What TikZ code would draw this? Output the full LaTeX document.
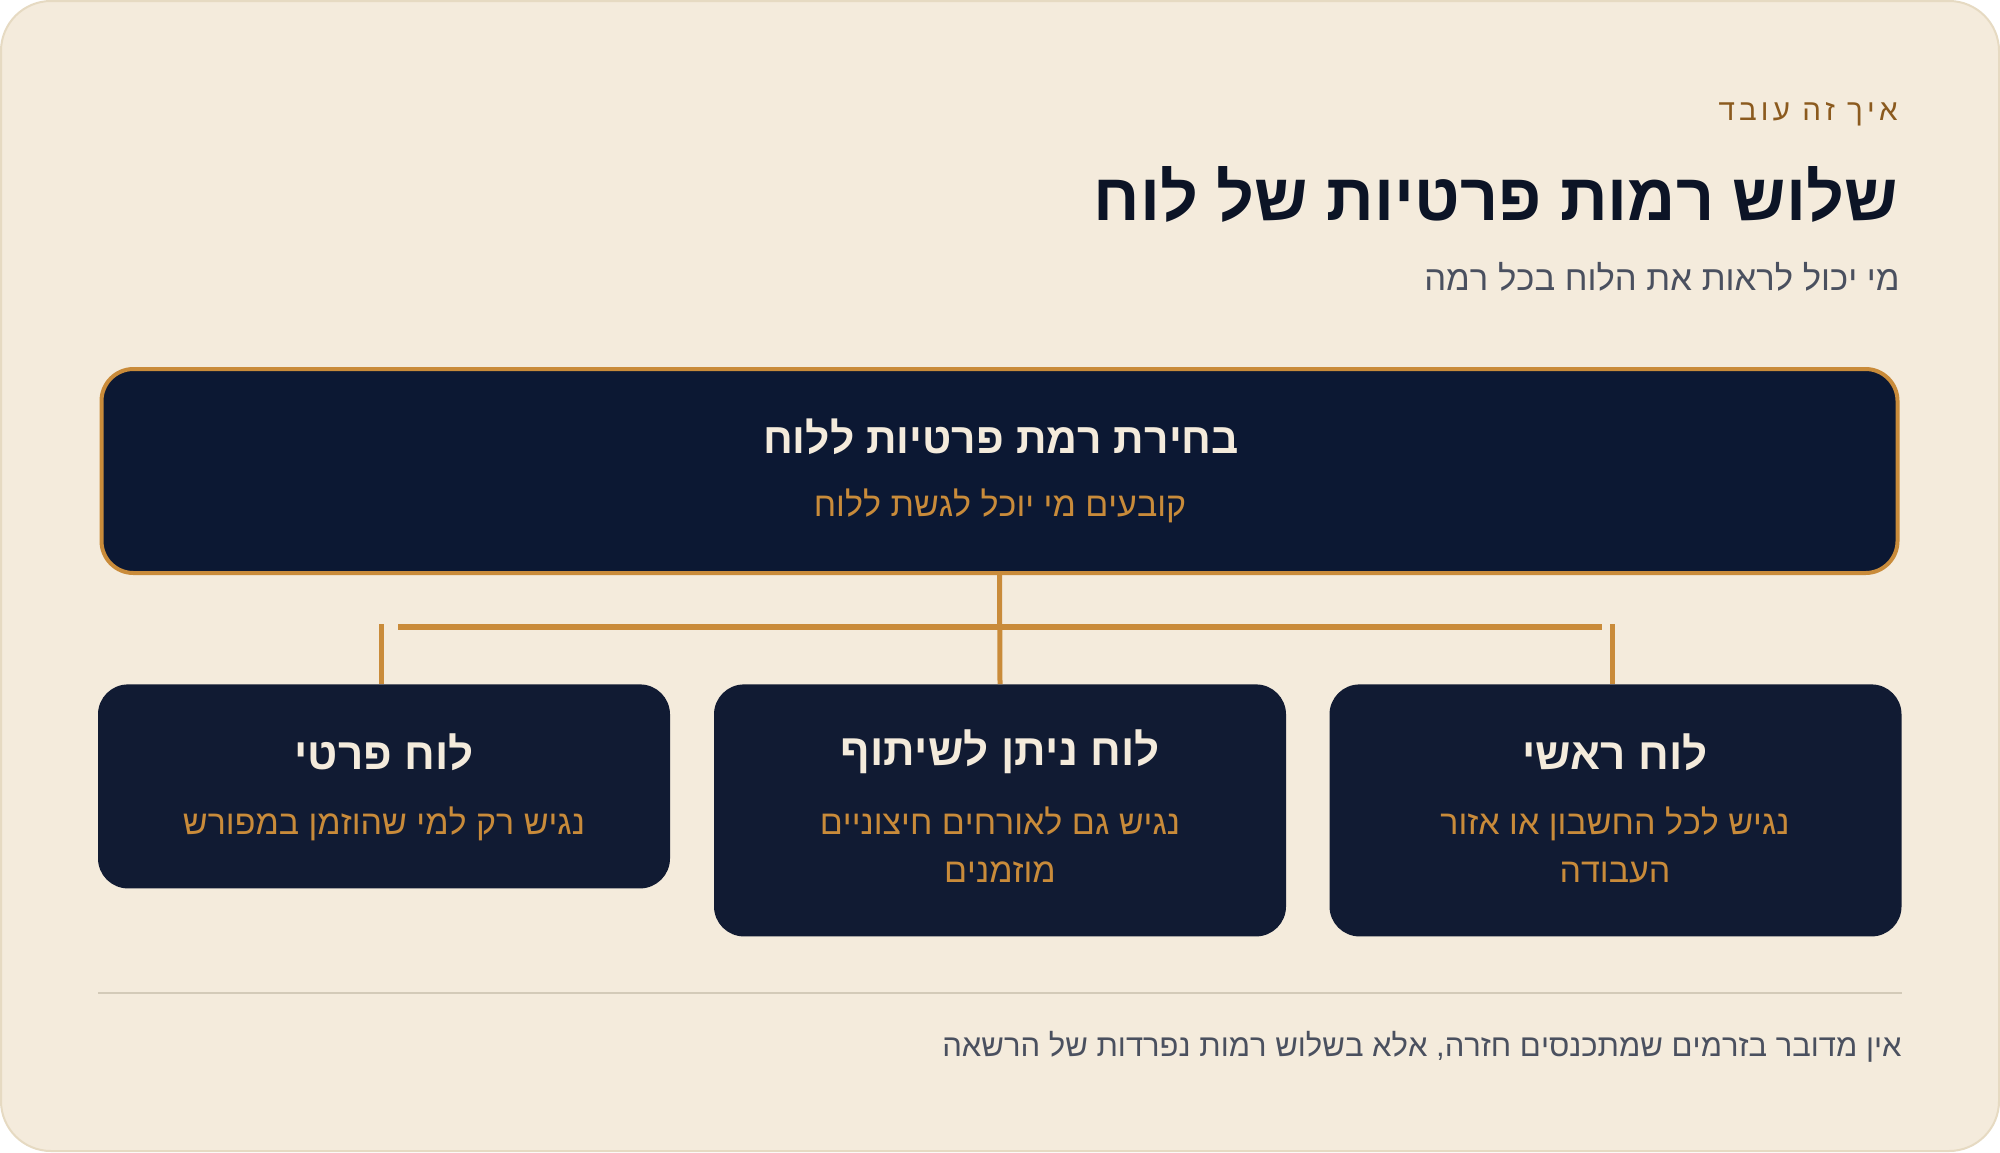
\documentclass[tikz,border=0pt]{standalone}
\usepackage{fontspec}
\setmainfont{Liberation Sans}
\TeXXeTstate=1
\definecolor{bgc}{HTML}{F4EBDC}
\definecolor{edgec}{HTML}{E6DAC2}
\definecolor{goldc}{HTML}{C98B3A}
\definecolor{navytop}{HTML}{0C1833}
\definecolor{navybox}{HTML}{111B33}
\definecolor{creamc}{HTML}{F4EBDC}
\definecolor{grayc}{HTML}{4A505F}
\definecolor{brownc}{HTML}{8B5A1E}
\definecolor{titlec}{HTML}{0C1426}
\definecolor{rulec}{HTML}{D3CAB8}
\newcommand{\R}[1]{\beginR #1\endR}
\tikzset{
  topbox/.style={draw=goldc, line width=2pt, fill=navytop, rounded corners=16pt, minimum width=898pt, minimum height=102pt, inner sep=0pt},
  levelbox/.style={fill=navybox, rounded corners=15pt, inner sep=0pt, minimum width=286pt},
  boxtitle/.style={text=creamc, font=\bfseries\fontsize{22}{26}\selectfont, inner sep=0pt},
  boxsub/.style={text=goldc, font=\fontsize{17}{24}\selectfont, align=center, inner sep=0pt},
  conn/.style={draw=goldc, line width=2.5pt},
  bar/.style={draw=goldc, line width=3pt},
}
\begin{document}
\begin{tikzpicture}[x=0.5pt,y=-0.5pt]
\useasboundingbox (0,0) rectangle (2000,1152);
\fill[white] (0,0) rectangle (2000,1152);
\path[fill=bgc, draw=edgec, line width=1pt, rounded corners=25pt] (1,1) rectangle (1999,1151);
% header
\node[anchor=east, text=brownc, font=\fontsize{14.8}{17}\selectfont\addfontfeature{LetterSpace=14}, inner sep=0pt] (kicker) at (1898,114) {\R{איך זה עובד}};
\node[anchor=east, text=titlec, font=\bfseries\fontsize{33.2}{36}\selectfont, inner sep=0pt] (title) at (1898,194) {\R{שלוש רמות פרטיות של לוח}};
\node[anchor=east, text=grayc, font=\fontsize{17.3}{20}\selectfont, inner sep=0pt] (subtitle) at (1900,277) {\R{מי יכול לראות את הלוח בכל רמה}};
% top box
\node[topbox] (top) at (999.5,471) {};
\node[boxtitle, font=\bfseries\fontsize{21.3}{26}\selectfont] (toptitle) at (1001,437) {\R{בחירת רמת פרטיות ללוח}};
\node[boxsub] (topsub) at (1000,506) {\R{קובעים מי יוכל לגשת ללוח}};
% level boxes
\node[levelbox, minimum height=102pt, anchor=north] (left) at (384,684) {};
\node[levelbox, minimum height=126pt, anchor=north] (mid) at (1000,684) {};
\node[levelbox, minimum height=126pt, anchor=north] (right) at (1615.5,684) {};
\node[boxtitle] (lefttitle) at (384,752) {\R{לוח פרטי}};
\node[boxtitle] (midtitle) at (1000,752) {\R{לוח ניתן לשיתוף}};
\node[boxtitle] (righttitle) at (1615,752) {\R{לוח ראשי}};
\node[boxsub, anchor=north] (leftsub) at (384,806) {\R{נגיש רק למי שהוזמן במפורש}};
\node[boxsub, anchor=north] (midsub) at (1000,806) {\R{נגיש גם לאורחים חיצוניים}\\\R{מוזמנים}};
\node[boxsub, anchor=north] (rightsub) at (1615,806) {\R{נגיש לכל החשבון או אזור}\\\R{העבודה}};
% connectors
\coordinate (barL) at (398,627);
\coordinate (barR) at (1602,627);
\coordinate (tickL) at (381,624);
\coordinate (tickR) at (1612,624);
\draw[conn] (top.south) -- (mid.north);
\draw[bar] (barL) -- (barR);
\draw[conn] (tickL) -- (tickL |- left.north);
\draw[conn] (tickR) -- (tickR |- right.north);
% footer
\coordinate (ruleL) at (98,993);
\coordinate (ruleR) at (1902,993);
\draw[rulec, line width=1pt] (ruleL) -- (ruleR);
\node[anchor=east, text=grayc, font=\fontsize{15.5}{20}\selectfont, inner sep=0pt] (footer) at (1902,1047) {\R{אין מדובר בזרמים שמתכנסים חזרה, אלא בשלוש רמות נפרדות של הרשאה}};
\end{tikzpicture}
\end{document}
